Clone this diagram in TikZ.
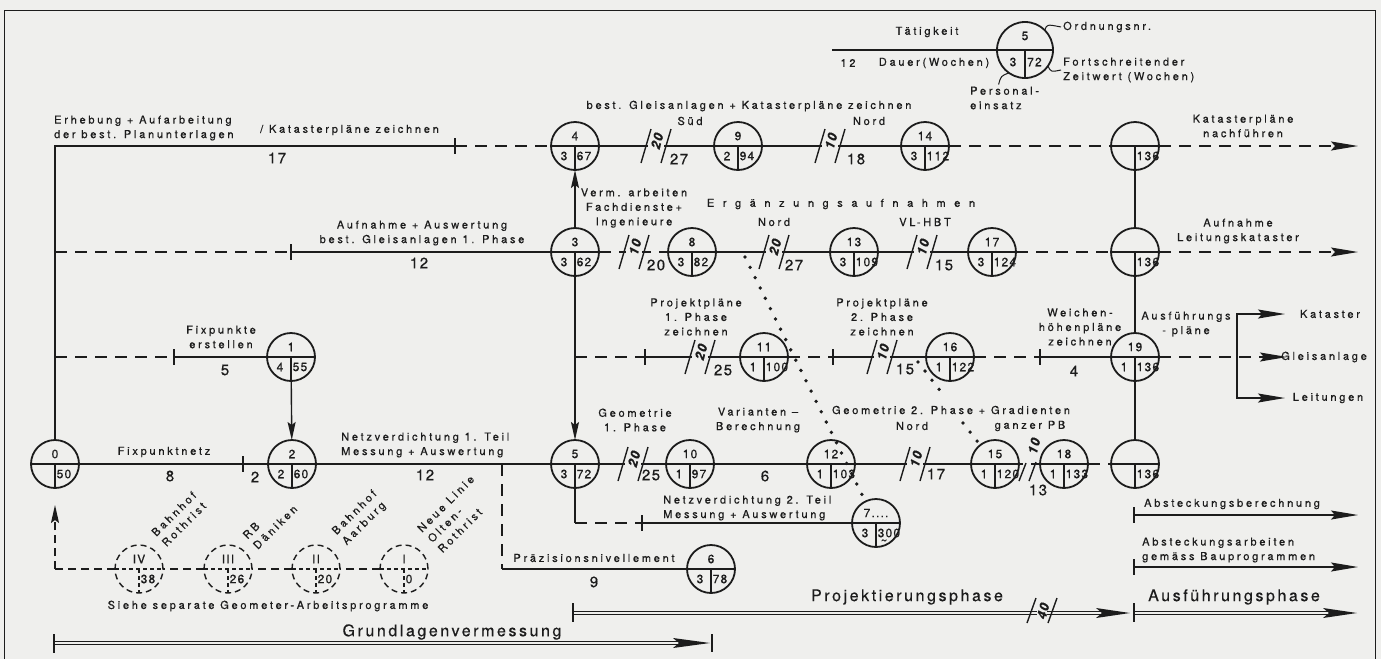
\documentclass[tikz,border=0pt]{standalone}
\usepackage{fontspec}
\setmainfont{TeX Gyre Heros}[LetterSpace=25,FakeBold=0.6]
\newfontfamily\weitfont{TeX Gyre Heros}[LetterSpace=78,FakeBold=0.6]
\newfontfamily\phasefont{TeX Gyre Heros}[LetterSpace=16,FakeBold=0.4]
\newfontfamily\zahlfont{TeX Gyre Heros}[LetterSpace=10,FakeBold=0.6]
\newfontfamily\schraegfont{TeX Gyre Heros}[LetterSpace=25,FakeBold=0.3]
\usepackage{tikz}
\usetikzlibrary{positioning,arrows.meta}

\definecolor{papier}{RGB}{239,239,237}
\definecolor{tinte}{RGB}{28,28,28}

\begin{document}
\begin{tikzpicture}[x=1pt,y=-1pt,
    every node/.style={inner sep=0pt,text=tinte},
    txt/.style={font=\fontsize{11}{14.5}\selectfont,align=center},
    schraeg/.style={font=\schraegfont\fontsize{11}{14.5}\selectfont,rotate=45,align=left},
    dauer/.style={font=\zahlfont\fontsize{15}{16}\selectfont},
    zahl/.style={font=\zahlfont\fontsize{12}{12}\selectfont},
    gross/.style={font=\phasefont\fontsize{16}{18}\selectfont},
    kreuz/.style={font=\zahlfont\bfseries\itshape\fontsize{13}{13}\selectfont,rotate=75},
    ereignis/.style={circle,draw=tinte,line width=1.8pt,minimum size=48pt,outer sep=0pt},
    geplant/.style={ereignis,line width=1.4pt,dash pattern=on 6pt off 4pt},
    linie/.style={draw=tinte,line width=1.4pt},
    gestr/.style={linie,dash pattern=on 12pt off 8pt},
    punkte/.style={draw=tinte,line width=3.8pt,line cap=round,dash pattern=on 0pt off 11.5pt},
    doppel/.style={draw=tinte,line width=1.1pt,double=papier,double distance=2.4pt},
    pfeil/.style={-{Stealth[length=27pt,width=9pt,inset=4pt]}},
    pfeilv/.style={-{Stealth[length=18pt,width=8pt,inset=3pt]}},
  ]
  \fill[papier] (0,0) rectangle (1381,659);
  \useasboundingbox (0,0) rectangle (1381,659);
  \draw[linie,line width=1pt] (4,659) -- (4,10) -- (1375,10) -- (1375,659);

  % Ereignisse
  \foreach \n/\x/\y/\o/\l/\r in {0/55/464/0/{}/50, 1/291/357/1/4/55, 2/292/464/2/2/60,
      3/575/252/3/3/62, 4/575/146/4/3/67, 5/575/464/5/3/72, 6/711/569/6/3/78,
      7/876/523/{7....}/3/300, 8/692/252/8/3/82, 9/738/146/9/2/94, 10/690/464/10/1/97,
      11/764/357/11/1/100, 12/831/464/12/1/103, 13/854/252/13/3/109, 14/925/146/14/3/112,
      15/995/464/15/1/120, 16/950/357/16/1/122, 17/992/252/17/3/124, 18/1064/464/18/1/133,
      19/1135/357/19/1/136, ka/1135/146/{}/{}/136, kb/1135/252/{}/{}/136, kc/1135/464/{}/{}/136}{
    \node[ereignis] (e\n) at (\x,\y) {};
    \draw[linie] (e\n.west) -- (e\n.east) (e\n.center) -- (e\n.south);
    \node[zahl] (o\n) at ([yshift=10pt]e\n.center) {\o};
    \node[zahl] (l\n) at ([xshift=-11pt,yshift=-10pt]e\n.center) {\l};
    \node[zahl,anchor=west] (r\n) at ([xshift=1.5pt,yshift=-10pt]e\n.center) {\r};
  }
  \node[zahl] (tilde) at (884,542) {\textasciitilde};

  % Geometer-Arbeitsprogramme
  \foreach \n/\x/\o/\r in {4/139/IV/38, 3/228/III/26, 2/316/II/20, 1/404/I/0}{
    \node[geplant] (g\n) at (\x,569) {};
    \draw[linie,line width=1.1pt,dash pattern=on 4pt off 3pt] (g\n.west) -- (g\n.east) (g\n.center) -- (g\n.south);
    \node[zahl] (go\n) at ([yshift=10pt]g\n.center) {\o};
    \node[zahl,anchor=west] (gr\n) at ([xshift=1.5pt,yshift=-10pt]g\n.center) {\r};
  }

  % Legende
  \node[ereignis,minimum size=56pt] (L) at (1025,50) {};
  \draw[linie] (L.west) -- (L.east) (L.center) -- (L.south);
  \node[zahl] (L5) at ([yshift=14pt]L.center) {5};
  \node[zahl] (L3) at ([xshift=-12pt,yshift=-12pt]L.center) {3};
  \node[zahl,anchor=west] (L72) at ([xshift=2pt,yshift=-12pt]L.center) {72};
  \coordinate (l0) at (832,50);
  \draw[linie] (l0) -- (L);
  \node[txt] (taet) at (927,32) {Tätigkeit};
  \node[txt] (l12) at (848,63) {12};
  \node[txt] (ldauer) at (934,63) {Dauer(Wochen)};
  \node[txt,anchor=west] (lord) at (1063,27) {Ordnungsnr.};
  \node[txt,anchor=west,align=left] (lfort) at (1063,70) {Fortschreitender\\Zeitwert (Wochen)};
  \node[txt,anchor=west,align=left] (lpers) at (970,98) {Personal-\\einsatz};
  \draw[linie,line width=1pt] (L.45) .. controls +(2,-6) .. ([xshift=-2pt]lord.west);
  \draw[linie,line width=1pt] (L.-35) .. controls +(3,6) .. ([xshift=-2pt]lfort.west);
  \draw[linie,line width=1pt] (L.-125) .. controls +(-8,3) .. ([xshift=-6pt,yshift=2pt]lpers.north);

  % Anschlagpunkte
  \coordinate (t1) at (455,146);
  \coordinate (t2) at (291,252);
  \coordinate (t3) at (174,357);
  \coordinate (t4) at (243,464);
  \coordinate (t5) at (645,357);
  \coordinate (t6) at (833,357);
  \coordinate (t7) at (1040,357);
  \coordinate (t8) at (642,523);
  \coordinate (j1) at (575,357);
  \coordinate (j2) at (575,523);
  \coordinate (j3) at (502,464);
  \coordinate (j4) at (502,569);
  \coordinate (j5) at (55,146);
  \coordinate (j6) at (55,252);
  \coordinate (j7) at (55,357);
  \coordinate (j8) at (55,569);
  \coordinate (ga) at (1237,357);
  \coordinate (z1) at (1358,146);
  \coordinate (z2) at (1358,252);
  \coordinate (z3) at (1287,357);
  \coordinate (z4) at (1285,314);
  \coordinate (z5) at (1285,398);

  % Grundlagen
  \draw[linie] (e0) -- (j5) -- (t1);
  \draw[gestr] (t1) -- (e4);
  \draw[gestr] (j6) -- (t2);
  \draw[linie] (t2) -- (e3);
  \draw[gestr] (j7) -- (t3);
  \draw[linie] (t3) -- (e1);
  \draw[linie,pfeilv] (e1) -- (e2);
  \draw[linie] (e0) -- (e2) -- (e5);
  \draw[gestr] (j3) -- (j4);
  \draw[linie] (j4) -- (e6);
  \draw[linie,dash pattern=on 8pt off 5pt] (g1) -- (g2) -- (g3) -- (g4) -- (j8);
  \draw[linie,dash pattern=on 8pt off 5pt,pfeilv,shorten >=17pt] (j8) -- (e0);
  \foreach \i in {1,...,8}
    \draw[linie] (t\i) ++(0,-8) -- ++(0,16);

  % Projektierung
  \draw[linie,pfeilv] (e3) -- (e4);
  \draw[linie,pfeilv] (e3) -- (e5);
  \draw[gestr] (j1) -- (t5);
  \draw[linie] (t5) -- (e11);
  \draw[linie] (e5) -- (j2);
  \draw[gestr] (j2) -- (t8);
  \draw[linie] (t8) -- (e7);
  \draw[linie] (e4) -- (e9) -- (e14);
  \draw[gestr] (e14) -- (eka);
  \draw[gestr,pfeil] (eka) -- (z1);
  \draw[gestr] (e3) -- (e8);
  \draw[linie] (e8) -- (e13) -- (e17);
  \draw[gestr] (e17) -- (ekb);
  \draw[gestr,pfeil] (ekb) -- (z2);
  \draw[linie] (eka) -- (ekb) -- (e19) -- (ekc);
  \draw[gestr] (e11) -- (t6);
  \draw[linie] (t6) -- (e16);
  \draw[gestr] (e16) -- (t7);
  \draw[linie] (t7) -- (e19);
  \draw[gestr,pfeil] (e19) -- (z3);
  \draw[linie,pfeil] (ga) |- (z4);
  \draw[linie,pfeil] (ga) |- (z5);
  \draw[linie] (e5) -- (e10) -- (e12) -- (e15) -- (e18);
  \draw[gestr] (e18) -- (ekc);

  % Abhaengigkeiten
  \coordinate (d1) at (745,257);
  \coordinate (d2) at (918,362);
  \coordinate (d3) at (945,397);
  \coordinate (d4) at (963,423);
  \draw[punkte] (d1) -- (e7);
  \draw[punkte] (d2) -- (d3);
  \draw[punkte] (d4) -- (e15);

  % Ueberlappungen
  \foreach \x/\y/\z in {656/146/20, 830/146/10, 634/252/10, 774/252/20, 922/252/10,
      700/357/20, 882/357/10, 633/464/20, 915/464/10}{
    \fill[papier] (\x-8,\y-3) rectangle (\x+8,\y+3);
    \draw[linie] (\x-15,\y+17) -- (\x-5,\y-17) (\x+5,\y+17) -- (\x+15,\y-17);
    \node[kreuz] at (\x+1,\y-5) {\z};
  }
  \fill[papier] (1023,461) rectangle (1031,467);
  \draw[linie] (1019,481) -- (1026,463) (1029,481) -- (1036,462);
  \node[kreuz] (k10) at (1034,446) {10};
  \node[dauer] (d13) at (1038,490) {13};

  % Phasen
  \coordinate (p1) at (54,643);
  \coordinate (p2) at (710,643);
  \coordinate (p3) at (573,613);
  \coordinate (p4) at (1130,613);
  \coordinate (p5) at (1134,613);
  \coordinate (p6) at (1357,613);
  \draw[doppel] (p1) -- ([xshift=-30pt]p2);
  \fill[tinte] (p2) -- ++(-37,-5) -- ++(6,5) -- ++(-6,5) -- cycle;
  \draw[doppel] (p3) -- ([xshift=-28pt]p4);
  \fill[tinte] (p4) -- ++(-34,-5) -- ++(6,5) -- ++(-6,5) -- cycle;
  \draw[doppel] (p5) -- ([xshift=-28pt]p6);
  \fill[tinte] (p6) -- ++(-34,-5) -- ++(6,5) -- ++(-6,5) -- cycle;
  \draw[linie] (p1) ++(0,-9) -- ++(0,19);
  \draw[linie] (p2) ++(2,-9) -- ++(0,18);
  \draw[linie] (p3) ++(0,-10) -- ++(0,19);
  \draw[linie] (p5) ++(0,-10) -- ++(0,19);
  \fill[papier] (1037,609) rectangle (1047,617);
  \draw[linie] (1027,623) -- (1036,598) (1048,623) -- (1057,598);
  \node[kreuz] (k40) at (1043,611) {40};
  \coordinate (a1) at (1134,515);
  \coordinate (a2) at (1358,515);
  \coordinate (a3) at (1134,567);
  \coordinate (a4) at (1358,567);
  \draw[linie,pfeil] (a1) -- (a2);
  \draw[linie,pfeil] (a3) -- (a4);
  \draw[linie] (a1) ++(0,-8) -- ++(0,16);
  \draw[linie] (a3) ++(0,-8) -- ++(0,16);

  % Beschriftungen
  \node[txt,anchor=west,align=left] (nerh) at (54,128) {Erhebung + Aufarbeitung\\der best. Planunterlagen};
  \node[txt,anchor=west] (nkat) at (260,130) {/ Katasterpläne zeichnen};
  \node[dauer] (n17) at (277,158) {17};
  \node[txt] (naufn) at (422,233) {Aufnahme + Auswertung\\best. Gleisanlagen 1. Phase};
  \node[dauer] (n12a) at (419,263) {12};
  \node[txt] (nfix) at (221,337) {Fixpunkte\\erstellen};
  \node[dauer] (n5) at (225,370) {5};
  \node[txt] (nfixn) at (164,452) {Fixpunktnetz};
  \node[dauer] (n8) at (170,476) {8};
  \node[dauer] (n2) at (255,477) {2};
  \node[txt,anchor=west,align=left] (nnetz1) at (341,445) {Netzverdichtung 1. Teil\\Messung + Auswertung};
  \node[dauer] (n12b) at (425,475) {12};
  \node[schraeg] (nroth) at (179,519) {Bahnhof\\Rothrist};
  \node[schraeg] (ndaen) at (270,522) {RB\\Däniken};
  \node[schraeg] (naarb) at (360,518) {Bahnhof\\Aarburg};
  \node[schraeg] (nneue) at (456,514) {Neue Linie\\Olten-\\Rothrist};
  \node[txt] (nsiehe) at (268,606) {Siehe separate Geometer-Arbeitsprogramme};
  \node[gross] (ngrund) at (452,632) {Grundlagenvermessung};
  \node[txt] (nverm) at (634,208) {Verm. arbeiten\\Fachdienste+\\Ingenieure};
  \node[txt] (nbest) at (749,106) {best. Gleisanlagen + Katasterpläne zeichnen};
  \node[txt] (nsued) at (690,121) {Süd};
  \node[txt] (nnord1) at (869,121) {Nord};
  \node[dauer] (n27a) at (679,159) {27};
  \node[dauer] (n18) at (856,159) {18};
  \node[txt,font=\weitfont\fontsize{11}{14}\selectfont] (nergz) at (841,204) {Ergänzungsaufnahmen};
  \node[txt] (nnord2) at (774,222) {Nord};
  \node[txt] (nvl) at (925,222) {VL-HBT};
  \node[dauer] (n20) at (656,265) {20};
  \node[dauer] (n27b) at (794,265) {27};
  \node[dauer] (n15a) at (944,265) {15};
  \node[txt] (nproj1) at (696,317) {Projektpläne\\1. Phase\\zeichnen};
  \node[dauer] (n25a) at (723,370) {25};
  \node[txt] (nproj2) at (882,317) {Projektpläne\\2. Phase\\zeichnen};
  \node[dauer] (n15b) at (905,369) {15};
  \node[txt] (nweich) at (1080,327) {Weichen-\\höhenpläne\\zeichnen};
  \node[dauer] (n4) at (1074,371) {4};
  \node[txt] (nkatn) at (1243,126) {Katasterpläne\\nachführen};
  \node[txt] (nleit) at (1238,231) {Aufnahme\\Leitungskataster};
  \node[txt] (nausfp) at (1186,324) {Ausführungs\\- pläne};
  \node[txt] (nkatas) at (1330,314) {Kataster};
  \node[txt] (ngleis) at (1324,357) {Gleisanlage};
  \node[txt] (nleitg) at (1328,398) {Leitungen};
  \node[txt] (ngeo1) at (635,420) {Geometrie\\1. Phase};
  \node[dauer] (n25b) at (651,475) {25};
  \node[txt] (nvar) at (758,420) {Varianten –\\Berechnung};
  \node[dauer] (n6) at (765,476) {6};
  \node[txt] (ngeo2) at (951,410) {Geometrie 2. Phase + Gradienten};
  \node[txt] (nnord3) at (912,426) {Nord};
  \node[txt] (npb) at (1030,426) {ganzer PB};
  \node[dauer] (n17b) at (936,474) {17};
  \node[txt,anchor=west,align=left] (nnetz2) at (663,508) {Netzverdichtung 2. Teil\\Messung + Auswertung};
  \node[txt] (npraez) at (594,558) {Präzisionsnivellement};
  \node[dauer] (n9) at (594,582) {9};
  \node[gross] (nprojph) at (907,597) {Projektierungsphase};
  \node[gross] (nausph) at (1234,597) {Ausführungsphase};
  \node[txt] (nabst1) at (1232,504) {Absteckungsberechnung};
  \node[txt,anchor=west,align=left] (nabst2) at (1142,550) {Absteckungsarbeiten\\gemäss Bauprogrammen};
\end{tikzpicture}
\end{document}
